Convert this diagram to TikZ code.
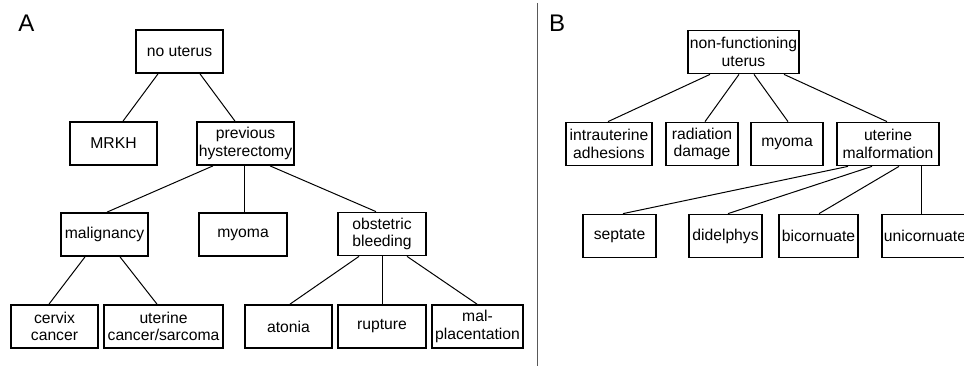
\documentclass[tikz,border=0pt]{standalone}
\usepackage{fontspec}
\setmainfont{Liberation Sans}
\begin{document}
\begin{tikzpicture}[x=0.03cm,y=-0.03cm,
    box/.style={draw,line width=1.5pt,align=center,inner sep=0pt,
      minimum height=1.29cm,font=\fontsize{13.4}{14.8}\selectfont},
    boxw/.style={minimum width=#1*0.03cm},
    link/.style={line width=0.85pt},
    panel/.style={font=\fontsize{20.5}{20.5}\selectfont}]
  \clip (0,0) rectangle (964,366);
  % panel A
  \node[panel] (labA) at (26.5,23.5) {A};
  \node[box,boxw=87] (nouterus) at (179.5,51.5) {no uterus};
  \node[box,boxw=87] (mrkh) at (113.5,143.5) {MRKH};
  \node[box,boxw=97] (prevhyst) at (245.5,143.5) {previous\\hysterectomy};
  \node[box,boxw=87] (malig) at (104.5,234.5) {malignancy};
  \node[box,boxw=88] (myomaA) at (243,234.5) {myoma};
  \node[box,boxw=88] (obst) at (382,234) {obstetric\\bleeding};
  \node[box,boxw=87] (cervix) at (54.5,326.5) {cervix\\cancer};
  \node[box,boxw=119] (utcancer) at (163.5,326.5) {uterine\\cancer/sarcoma};
  \node[box,boxw=87] (atonia) at (288.5,326.5) {atonia};
  \node[box,boxw=88] (rupture) at (382,326.5) {rupture};
  \node[box,boxw=91] (malplac) at (477.5,326.5) {mal-\\placentation};
  \draw[link] ([shift={(-21.5,0)}]nouterus.south) -- ([shift={(9.5,0)}]mrkh.north);
  \draw[link] ([shift={(20.5,0)}]nouterus.south) -- ([shift={(-10.5,0)}]prevhyst.north);
  \draw[link] ([shift={(-32.5,0)}]prevhyst.south) -- ([shift={(2.5,0)}]malig.north);
  \draw[link] ([shift={(-1,0)}]prevhyst.south) -- ([shift={(1.5,0)}]myomaA.north);
  \draw[link] ([shift={(24.5,0)}]prevhyst.south) -- ([shift={(-6,0)}]obst.north);
  \draw[link] ([shift={(-19.5,0)}]malig.south) -- ([shift={(-5.5,0)}]cervix.north);
  \draw[link] ([shift={(15.5,0)}]malig.south) -- ([shift={(-6.5,0)}]utcancer.north);
  \draw[link] ([shift={(-23,0)}]obst.south) -- ([shift={(1.5,0)}]atonia.north);
  \draw[link] ([shift={(0.5,0)}]obst.south) -- ([shift={(0.5,0)}]rupture.north);
  \draw[link] ([shift={(25,0)}]obst.south) -- ([shift={(-0.5,0)}]malplac.north);
  % divider
  \draw[line width=1.6pt,black!65] (537.5,3) -- (537.5,366);
  % panel B
  \node[panel] (labB) at (557,23.5) {B};
  \node[box,boxw=111] (nonfunc) at (743.5,52) {non-functioning\\uterus};
  \node[box,boxw=86] (adhes) at (609,144) {intrauterine\\adhesions};
  \node[box,boxw=72] (radiat) at (702,144) {radiation\\damage};
  \node[box,boxw=72] (myomaB) at (787,144) {myoma};
  \node[box,boxw=102] (malform) at (888,144) {uterine\\malformation};
  \node[box,boxw=73] (septate) at (619.5,236) {septate};
  \node[box,boxw=73] (didelph) at (725.5,236) {didelphys};
  \node[box,boxw=79] (bicorn) at (818.5,236) {bicornuate};
  \node[box,boxw=86] (unicorn) at (925,236) {unicornuate};
  \draw[link] ([shift={(-33.5,0)}]nonfunc.south) -- ([shift={(-1,0)}]adhes.north);
  \draw[link] ([shift={(-4.5,0)}]nonfunc.south) -- ([shift={(3,0)}]radiat.north);
  \draw[link] ([shift={(10.5,0)}]nonfunc.south) -- ([shift={(1,0)}]myomaB.north);
  \draw[link] ([shift={(40.5,0)}]nonfunc.south) -- ([shift={(-1,0)}]malform.north);
  \draw[link] ([shift={(-40,0)}]malform.south) -- ([shift={(3.5,0)}]septate.north);
  \draw[link] ([shift={(-16,0)}]malform.south) -- ([shift={(2.5,0)}]didelph.north);
  \draw[link] ([shift={(11,0)}]malform.south) -- ([shift={(0.5,0)}]bicorn.north);
  \draw[link] ([shift={(33.5,0)}]malform.south) -- ([shift={(-3.5,0)}]unicorn.north);
\end{tikzpicture}
\end{document}
